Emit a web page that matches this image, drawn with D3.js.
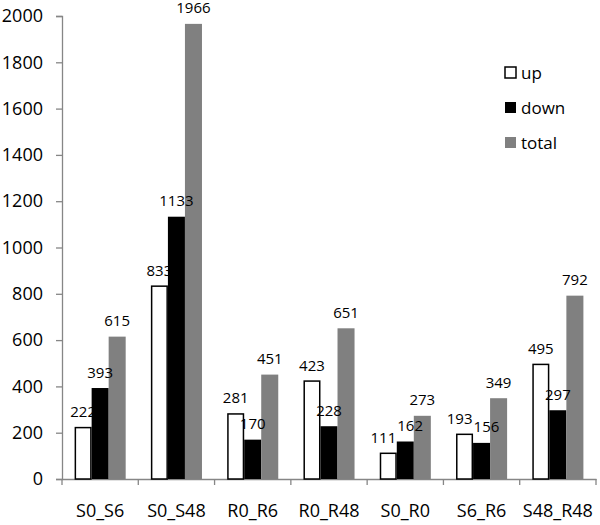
<!DOCTYPE html>
<html><head><meta charset="utf-8">
<script src="https://cdn.jsdelivr.net/npm/d3@7"></script>
<style>body{margin:0;background:#fff;} text{font-family:"Open Sans",sans-serif;}</style>
</head><body>
<svg id="c" width="600" height="525"></svg>
<script>
const categories = ["S0_S6","S0_S48","R0_R6","R0_R48","S0_R0","S6_R6","S48_R48"];
const up    = [222, 833, 281, 423, 111, 193, 495];
const down  = [393, 1133, 170, 228, 162, 156, 297];
const total = [615, 1966, 451, 651, 273, 349, 792];
const seriesNames = ["up","down","total"];
const yTicks = [0,200,400,600,800,1000,1200,1400,1600,1800,2000];

const svg = d3.select("#c");
const x = d3.scaleBand().domain(categories).range([62, 596]).paddingInner(0).paddingOuter(0);
const y = d3.scaleLinear().domain([0, 2000]).range([479, 16]);
const xs = d3.scaleBand().domain(seriesNames).range([0, x.bandwidth()]).paddingInner(0).paddingOuter(0.74);
const fills = {up:"#ffffff", down:"#000000", total:"#808080"};
const strokes = {up:"#000000", down:"none", total:"none"};
const data = {up, down, total};

// y axis
const ya = svg.append("g").attr("transform","translate(62,0)")
  .call(d3.axisLeft(y).tickValues(yTicks).tickSize(6).tickPadding(13).tickFormat(d3.format("d")));
ya.select(".domain").attr("stroke","#868686").attr("stroke-width",1.3);
ya.selectAll(".tick line").attr("stroke","#868686").attr("stroke-width",1.3);
ya.selectAll("text").attr("font-size",18).attr("font-family","Open Sans").attr("fill","#000");

// x axis
const xa = svg.append("g").attr("transform","translate(0,479)")
  .call(d3.axisBottom(x).tickSize(0).tickPadding(25.5));
xa.select(".domain").attr("stroke","#868686").attr("stroke-width",1.3);
xa.selectAll("text").attr("font-size",18).attr("font-family","Open Sans").attr("fill","#000");
const bounds = categories.map(c => x(c)).concat([x.range()[1]]);
svg.append("g").selectAll("line").data(bounds).join("line")
  .attr("x1", d => d).attr("x2", d => d).attr("y1", 479).attr("y2", 485)
  .attr("stroke","#868686").attr("stroke-width",1.3);

// bars
seriesNames.forEach(s => {
  svg.append("g").selectAll("rect").data(categories).join("rect")
    .attr("x", (c) => x(c) + xs(s) + (s==="up"?0.75:0))
    .attr("width", xs.bandwidth() - (s==="up"?1.5:0))
    .attr("y", (c,i) => y(data[s][i]))
    .attr("height", (c,i) => y(0) - y(data[s][i]))
    .attr("fill", fills[s]).attr("stroke", strokes[s]).attr("stroke-width", 1.5);
});

// labels (drawn after all bars), with simple collision nudging
const labels = [];
categories.forEach((c,i) => {
  const row = seriesNames.map(s => ({
    text: String(data[s][i]),
    cx: x(c) + xs(s) + xs.bandwidth()/2,
    by: y(data[s][i]) - 10.5
  }));
  row.forEach(l => l.w = l.text.length * 8.6);
  for (let k = 0; k < row.length - 1; k++) {
    const a = row[k], b = row[k+1];
    if (Math.abs(a.by - b.by) < 14) {
      const ov = (a.w/2 + b.w/2 + 1) - (b.cx - a.cx);
      if (ov > 0) { a.cx -= ov/2; b.cx += ov/2; }
    }
  }
  labels.push(...row);
});
svg.append("g").selectAll("text").data(labels).join("text")
  .attr("x", d => d.cx).attr("y", d => d.by)
  .attr("text-anchor","middle").attr("font-size",15).attr("fill","#000")
  .text(d => d.text);

// legend
const lg = svg.append("g");
seriesNames.forEach((s,i) => {
  const cy = 73 + i*35;
  lg.append("rect").attr("x",505).attr("y",cy-6).attr("width",11).attr("height",11)
    .attr("fill",fills[s]).attr("stroke",strokes[s]).attr("stroke-width",1.5);
  lg.append("text").attr("x",521).attr("y",cy+6).attr("font-size",17).attr("fill","#000").text(s);
});
</script>
</body></html>
